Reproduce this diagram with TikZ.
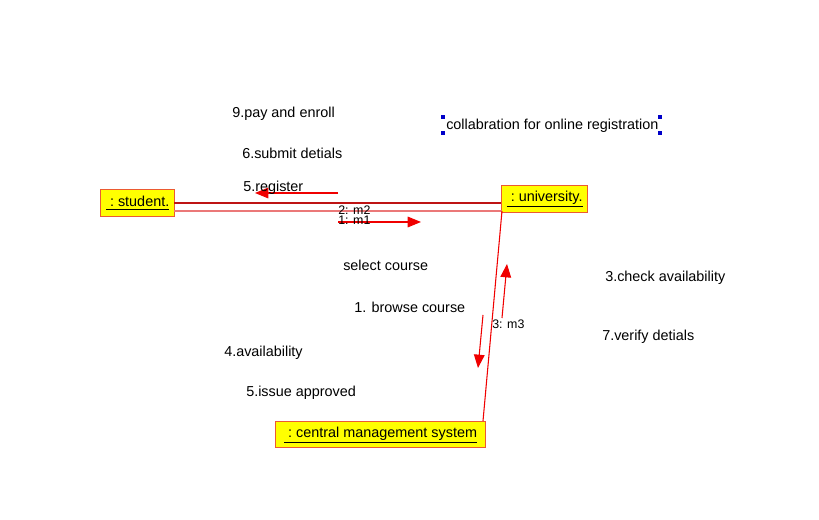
\documentclass[tikz,border=0pt]{standalone}
\usepackage{fontspec}
\setmainfont{Liberation Sans}
\usetikzlibrary{arrows.meta}
\definecolor{objfill}{RGB}{255,255,0}
\definecolor{objborder}{RGB}{235,90,50}
\definecolor{linkdark}{RGB}{190,20,20}
\definecolor{linklight}{RGB}{235,120,120}
\definecolor{msgred}{RGB}{240,0,0}
\definecolor{selblue}{RGB}{0,0,200}
\begin{document}
\begin{tikzpicture}[x=0.75pt,y=-0.75pt,
  obj/.style={draw=objborder,fill=objfill,line width=1pt,inner sep=0pt,anchor=north west,
    minimum height=27*0.75pt,font=\fontsize{10.8pt}{12pt}\selectfont},
  lbl/.style={inner sep=0pt,anchor=west,font=\fontsize{10.8pt}{12pt}\selectfont},
  mlbl/.style={inner sep=0pt,anchor=west,font=\fontsize{9.3pt}{9.5pt}\selectfont},
  msg/.style={draw=msgred,line width=0.8pt,-{Triangle[length=10pt,width=8pt]}},
  handle/.style={fill=selblue,inner sep=0pt,minimum size=3pt}]
\useasboundingbox (0,0) rectangle (819,520);
% objects
\node[obj,minimum width=74*0.75pt] (stu) at (100,189) {\underline{\ :\ student.}};
\node[obj,minimum width=86*0.75pt] (uni) at (501,185) {\underline{\ :\ university.}};
\node[obj,minimum width=210*0.75pt,minimum height=26*0.75pt] (cms) at (275,421) {\underline{\ :\ central management system}};
% links
\coordinate (s1) at (174,203); \coordinate (u1) at (501,203);
\coordinate (s2) at (174,211); \coordinate (u2) at (502,211);
\coordinate (c1) at (483,421);
\draw[linkdark,line width=0.8pt] (s1) -- (u1);
\draw[linklight,line width=1pt] (s2) -- (u2);
\draw[msgred,line width=0.8pt] (u2) -- (c1);
% messages
\coordinate (m5a) at (338,193); \coordinate (m5b) at (255,193);
\draw[msg] (m5a) -- (m5b);
\coordinate (m1a) at (338,222); \coordinate (m1b) at (421,222);
\draw[msg] (m1a) -- (m1b);
\coordinate (m3a) at (483,315); \coordinate (m3b) at (478,368);
\draw[msg] (m3a) -- (m3b);
\coordinate (m4a) at (502,318); \coordinate (m4b) at (507,264);
\draw[msg] (m4a) -- (m4b);
\node[mlbl] (l2) at (338,210) {2: m2};
\node[mlbl] (l1) at (338,220) {1: m1};
\node[mlbl] (l3) at (492,324) {3: m3};
% labels
\node[lbl] (t9) at (232,114) {9.pay and enroll};
\node[lbl] (t6) at (242,153) {6.submit detials};
\node[lbl] (t5) at (243,188) {5.register};
\node[lbl] (tc) at (446,126) {collabration for online registration};
\node[lbl] (tsel) at (343,265) {select course};
\node[lbl] (tb) at (354,307) {1. browse course};
\node[lbl] (tck) at (605,278) {3.check availability};
\node[lbl] (tv) at (602,337) {7.verify detials};
\node[lbl] (ta) at (224,353) {4.availability};
\node[lbl] (ti) at (246,393) {5.issue approved};
% selection handles
\node[handle] (h1) at (443,117) {};
\node[handle] (h2) at (660,117) {};
\node[handle] (h3) at (443,133) {};
\node[handle] (h4) at (660,133) {};
\end{tikzpicture}
\end{document}
